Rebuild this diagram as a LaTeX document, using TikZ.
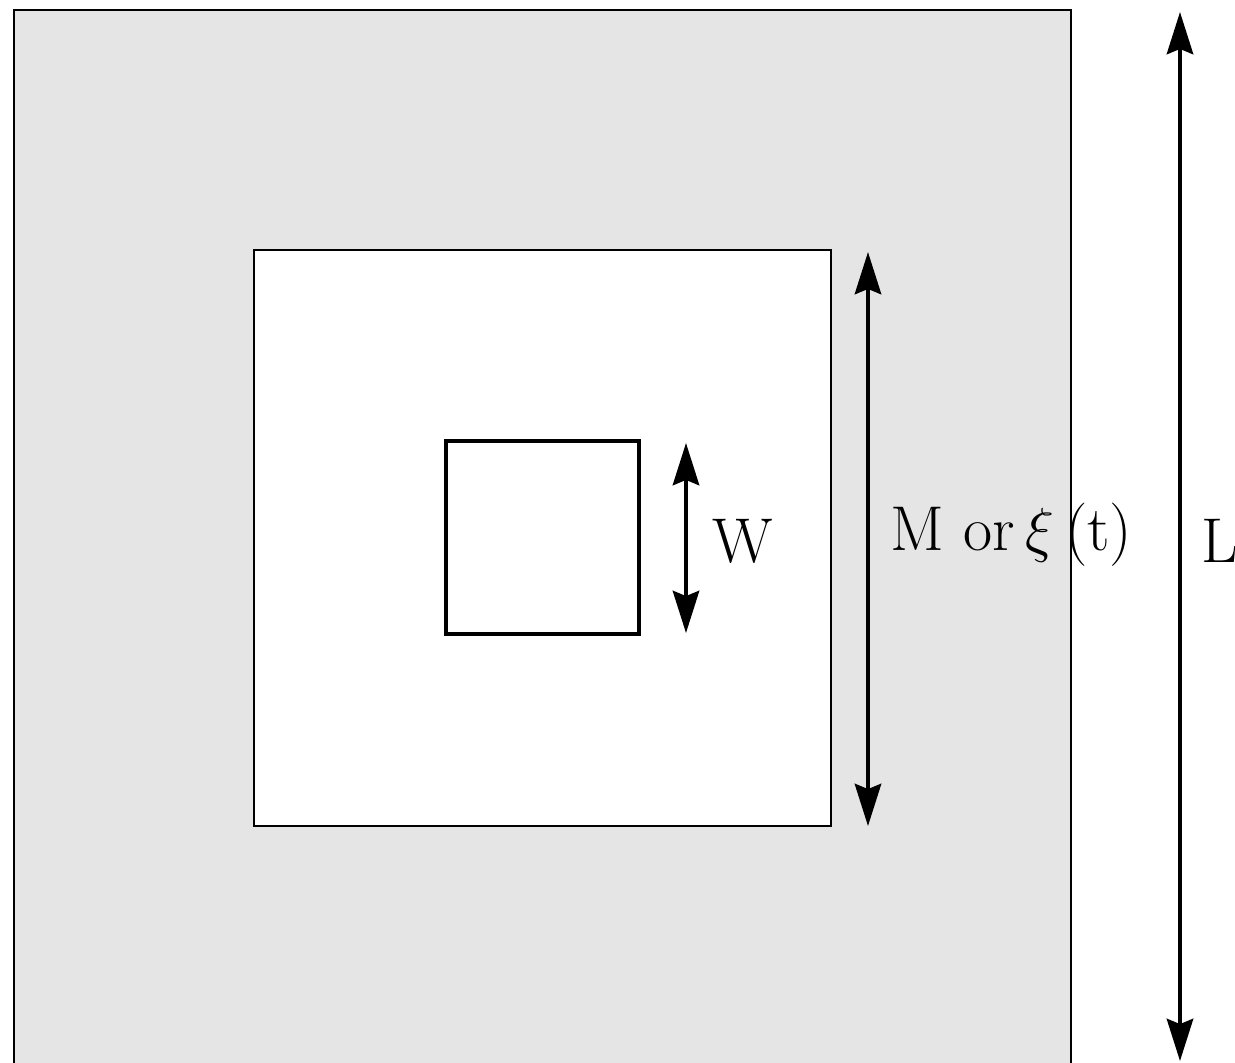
\documentclass[tikz,border=0pt]{standalone}
\usetikzlibrary{arrows.meta}
\definecolor{bggray}{RGB}{229,229,229}
\tikzset{
    dimarrow/.style={{Stealth[length=12pt, width=7.5pt, inset=1.5pt]}-{Stealth[length=12pt, width=7.5pt, inset=1.5pt]}, line width=1.1pt},
    dimlabel/.style={anchor=base west, inner sep=0pt, font=\rmfamily\fontsize{18}{20}\selectfont}
}
\begin{document}
\begin{tikzpicture}[x=0.01cm, y=-0.01cm]
    \useasboundingbox (0,0) rectangle (1235,1062);

    % domain and box
    \draw[fill=bggray, line width=0.4pt] (14,10) rectangle (1071,1070);
    \draw[fill=white, line width=0.3pt] (254,250) rectangle (831,826);
    \draw[line width=1.1pt] (446,441) rectangle (639,634);

    % sizes
    \coordinate (Wtop) at (686,443);
    \coordinate (Wbot) at (686,633);
    \coordinate (Mtop) at (868,252);
    \coordinate (Mbot) at (868,826);
    \coordinate (Ltop) at (1180,12);
    \coordinate (Lbot) at (1180,1061);

    \draw[dimarrow] (Wtop) -- (Wbot);
    \draw[dimarrow] (Mtop) -- (Mbot);
    \draw[dimarrow] (Ltop) -- (Lbot);

    \node[dimlabel] (wlabel) at (712,562) {W};
    \node[dimlabel] (mlabel) at (890,550) {M or\,$\xi$\,(t)};
    \node[dimlabel] (llabel) at (1201,562) {L};
\end{tikzpicture}
\end{document}
